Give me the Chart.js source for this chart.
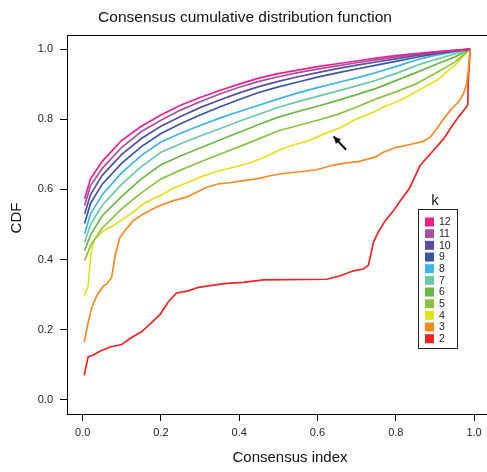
<!DOCTYPE html>
<html lang="en">
<head>
  <meta charset="UTF-8">
  <title>Consensus CDF</title>
  <script src="https://cdn.jsdelivr.net/npm/chart.js"></script>
  <style>
    html, body { margin: 0; padding: 0; background: #fff; }
    #wrap { width: 487px; height: 472px; }
  </style>
</head>
<body>
  <div id="wrap">
    <canvas id="cdfChart" width="487" height="472"></canvas>
  </div>

  <script>
    // consensus index break points shared by k = 5..12
    const cdfX = [0.005, 0.02, 0.05, 0.1, 0.15, 0.2, 0.25, 0.3, 0.35, 0.4, 0.45, 0.5, 0.55, 0.6, 0.65, 0.7, 0.75, 0.8, 0.85, 0.9, 0.95, 0.99];

    const cdfK12 = [0.573, 0.63, 0.68, 0.74, 0.78, 0.812, 0.84, 0.862, 0.882, 0.9, 0.917, 0.93, 0.94, 0.95, 0.958, 0.966, 0.974, 0.981, 0.987, 0.992, 0.996, 1];
    const cdfK11 = [0.554, 0.61, 0.66, 0.72, 0.765, 0.797, 0.826, 0.85, 0.872, 0.891, 0.908, 0.921, 0.933, 0.943, 0.952, 0.961, 0.969, 0.977, 0.985, 0.991, 0.996, 1];
    const cdfK10 = [0.53, 0.585, 0.64, 0.70, 0.745, 0.78, 0.808, 0.833, 0.855, 0.875, 0.893, 0.908, 0.921, 0.933, 0.944, 0.954, 0.963, 0.972, 0.981, 0.989, 0.995, 1];
    const cdfK9  = [0.503, 0.56, 0.615, 0.675, 0.722, 0.759, 0.787, 0.812, 0.835, 0.856, 0.876, 0.892, 0.906, 0.92, 0.932, 0.943, 0.954, 0.965, 0.976, 0.986, 0.994, 1];
    const cdfK8  = [0.473, 0.53, 0.585, 0.648, 0.697, 0.735, 0.76, 0.782, 0.803, 0.822, 0.84, 0.858, 0.875, 0.89, 0.904, 0.918, 0.933, 0.95, 0.968, 0.982, 0.992, 1];
    const cdfK7  = [0.449, 0.50, 0.555, 0.615, 0.665, 0.706, 0.73, 0.752, 0.773, 0.794, 0.814, 0.834, 0.85, 0.865, 0.88, 0.895, 0.911, 0.93, 0.952, 0.97, 0.986, 1];
    const cdfK6  = [0.425, 0.47, 0.525, 0.58, 0.63, 0.67, 0.695, 0.718, 0.741, 0.763, 0.785, 0.806, 0.822, 0.837, 0.853, 0.87, 0.888, 0.91, 0.932, 0.955, 0.977, 1];
    const cdfK5  = [0.397, 0.44, 0.49, 0.545, 0.59, 0.63, 0.655, 0.678, 0.7, 0.722, 0.744, 0.767, 0.782, 0.797, 0.813, 0.835, 0.858, 0.878, 0.9, 0.93, 0.962, 1];

    // k = 4, 3, 2 have their own break points
    const k4X = [0.004, 0.014, 0.019, 0.023, 0.031, 0.053, 0.078, 0.104, 0.129, 0.155, 0.18, 0.206, 0.232, 0.266, 0.30, 0.342, 0.385, 0.428, 0.479, 0.5, 0.534, 0.577, 0.619, 0.662, 0.70, 0.747, 0.768, 0.802, 0.836, 0.87, 0.905, 0.93, 0.956, 0.99];
    const cdfK4 = [0.297, 0.325, 0.39, 0.43, 0.459, 0.482, 0.497, 0.516, 0.535, 0.559, 0.573, 0.587, 0.604, 0.619, 0.635, 0.651, 0.663, 0.676, 0.699, 0.711, 0.725, 0.739, 0.759, 0.778, 0.801, 0.822, 0.835, 0.849, 0.868, 0.89, 0.911, 0.935, 0.959, 1.0];

    const k3X = [0.004, 0.014, 0.023, 0.036, 0.053, 0.061, 0.074, 0.083, 0.095, 0.108, 0.129, 0.155, 0.189, 0.232, 0.266, 0.291, 0.317, 0.347, 0.376, 0.41, 0.445, 0.479, 0.517, 0.56, 0.598, 0.636, 0.67, 0.704, 0.747, 0.768, 0.802, 0.836, 0.87, 0.888, 0.905, 0.922, 0.943, 0.96, 0.973, 0.981, 0.985, 0.99];
    const cdfK3 = [0.165, 0.22, 0.263, 0.297, 0.325, 0.33, 0.349, 0.411, 0.463, 0.482, 0.511, 0.53, 0.55, 0.568, 0.578, 0.592, 0.606, 0.616, 0.619, 0.625, 0.63, 0.639, 0.646, 0.651, 0.656, 0.668, 0.675, 0.679, 0.692, 0.706, 0.72, 0.728, 0.737, 0.749, 0.773, 0.801, 0.83, 0.849, 0.873, 0.901, 0.935, 1.0];

    const k2X = [0.004, 0.014, 0.027, 0.044, 0.07, 0.10, 0.121, 0.151, 0.172, 0.198, 0.219, 0.24, 0.27, 0.296, 0.334, 0.368, 0.41, 0.462, 0.624, 0.658, 0.692, 0.717, 0.73, 0.743, 0.755, 0.773, 0.794, 0.815, 0.835, 0.862, 0.892, 0.922, 0.939, 0.96, 0.977, 0.984, 0.985, 0.99];
    const cdfK2 = [0.07, 0.123, 0.128, 0.139, 0.151, 0.158, 0.175, 0.195, 0.216, 0.244, 0.28, 0.305, 0.311, 0.321, 0.327, 0.332, 0.335, 0.342, 0.344, 0.354, 0.368, 0.373, 0.384, 0.449, 0.478, 0.511, 0.539, 0.573, 0.603, 0.668, 0.706, 0.744, 0.773, 0.806, 0.83, 0.841, 0.906, 1.0];

    const kLabels = ['12', '11', '10', '9', '8', '7', '6', '5', '4', '3', '2'];
    const kColors = ['#EC2088', '#A6519F', '#5A4E9F', '#3A55A4', '#3DB4E8', '#6DC8A4', '#6BB843', '#8AC43F', '#E3E21E', '#F68B22', '#EE2424'];
    const xTicks = [0, 0.2, 0.4, 0.6, 0.8, 1.0];
    const yTicks = [0, 0.2, 0.4, 0.6, 0.8, 1.0];

    // arrow pointing at the k = 4 curve (tail -> head, in data units)
    const arrowFrom = { x: 0.673, y: 0.713 };
    const arrowTo = { x: 0.641, y: 0.751 };

    const seriesX = [cdfX, cdfX, cdfX, cdfX, cdfX, cdfX, cdfX, cdfX, k4X, k3X, k2X];
    const seriesY = [cdfK12, cdfK11, cdfK10, cdfK9, cdfK8, cdfK7, cdfK6, cdfK5, cdfK4, cdfK3, cdfK2];

    const FONT = '"Liberation Sans", Arial, Helvetica, sans-serif';

    const datasets = kLabels.map((lab, i) => ({
      label: lab,
      data: seriesX[i].map((x, j) => ({ x: x, y: seriesY[i][j] })),
      borderColor: kColors[i],
      backgroundColor: kColors[i],
      borderWidth: 1.7,
      pointRadius: 0,
      tension: 0,
      fill: false
    }));

    // titles, top frame line, arrow and the k legend
    const decorations = {
      id: 'decorations',
      afterDraw(chart) {
        const ctx = chart.ctx;
        const area = chart.chartArea;
        const xs = chart.scales.x, ys = chart.scales.y;
        ctx.save();

        ctx.strokeStyle = '#000';
        ctx.lineWidth = 1;
        ctx.beginPath();
        ctx.moveTo(area.left, area.top + 0.5);
        ctx.lineTo(area.right, area.top + 0.5);
        ctx.stroke();

        ctx.fillStyle = '#111';
        ctx.textAlign = 'center';
        ctx.textBaseline = 'middle';
        ctx.font = '15.5px ' + FONT;
        ctx.fillText('Consensus cumulative distribution function', 245, 18);

        ctx.font = '15px ' + FONT;
        ctx.fillText('Consensus index', 290, 458);
        ctx.save();
        ctx.translate(17, 218);
        ctx.rotate(-Math.PI / 2);
        ctx.fillText('CDF', 0, 0);
        ctx.restore();

        // arrow
        const x0 = xs.getPixelForValue(arrowFrom.x), y0 = ys.getPixelForValue(arrowFrom.y);
        const x1 = xs.getPixelForValue(arrowTo.x), y1 = ys.getPixelForValue(arrowTo.y);
        const ang = Math.atan2(y1 - y0, x1 - x0);
        ctx.strokeStyle = '#111';
        ctx.lineWidth = 2;
        ctx.beginPath();
        ctx.moveTo(x0, y0);
        ctx.lineTo(x1, y1);
        ctx.stroke();
        ctx.fillStyle = '#111';
        ctx.beginPath();
        ctx.moveTo(x1, y1);
        ctx.lineTo(x1 - 8 * Math.cos(ang - 0.45), y1 - 8 * Math.sin(ang - 0.45));
        ctx.lineTo(x1 - 8 * Math.cos(ang + 0.45), y1 - 8 * Math.sin(ang + 0.45));
        ctx.closePath();
        ctx.fill();

        // legend box
        const bx = 418.5, by = 209.5, bw = 39, bh = 139;
        ctx.lineWidth = 1;
        ctx.strokeStyle = '#222';
        ctx.strokeRect(bx, by, bw, bh);
        ctx.fillStyle = '#111';
        ctx.font = '15px ' + FONT;
        ctx.textAlign = 'center';
        ctx.fillText('k', 435, 201);
        ctx.font = '10.5px ' + FONT;
        ctx.textAlign = 'left';
        chart.data.datasets.forEach((ds, i) => {
          const cy = 222 + i * 11.67;
          ctx.fillStyle = ds.borderColor;
          ctx.fillRect(425, cy - 4.5, 9, 9);
          ctx.fillStyle = '#222';
          ctx.fillText(ds.label, 439, cy + 0.5);
        });

        ctx.restore();
      }
    };

    const tickFont = { family: FONT, size: 11 };

    new Chart(document.getElementById('cdfChart').getContext('2d'), {
      type: 'line',
      data: { datasets: datasets },
      options: {
        responsive: false,
        animation: false,
        layout: { padding: { top: 35, right: 0, bottom: 0, left: 0 } },
        plugins: {
          legend: { display: false },
          tooltip: { enabled: false }
        },
        scales: {
          x: {
            type: 'linear',
            min: -0.04,
            max: 1.033,
            afterBuildTicks: s => { s.ticks = xTicks.map(v => ({ value: v })); },
            afterFit: s => { s.height = 58; },
            ticks: {
              font: tickFont,
              color: '#222',
              padding: 5,
              maxRotation: 0,
              callback: v => Number(v).toFixed(1)
            },
            grid: { drawOnChartArea: false, tickLength: 7, color: '#000', tickColor: '#000' },
            border: { display: true, color: '#000', width: 1 }
          },
          y: {
            type: 'linear',
            min: -0.04,
            max: 1.04,
            afterBuildTicks: s => { s.ticks = yTicks.map(v => ({ value: v })); },
            afterFit: s => { s.width = 67; },
            ticks: {
              font: tickFont,
              color: '#222',
              padding: 7,
              callback: v => Number(v).toFixed(1)
            },
            grid: { drawOnChartArea: false, tickLength: 7, color: '#000', tickColor: '#000' },
            border: { display: true, color: '#000', width: 1 }
          }
        }
      },
      plugins: [decorations]
    });
  </script>
</body>
</html>
